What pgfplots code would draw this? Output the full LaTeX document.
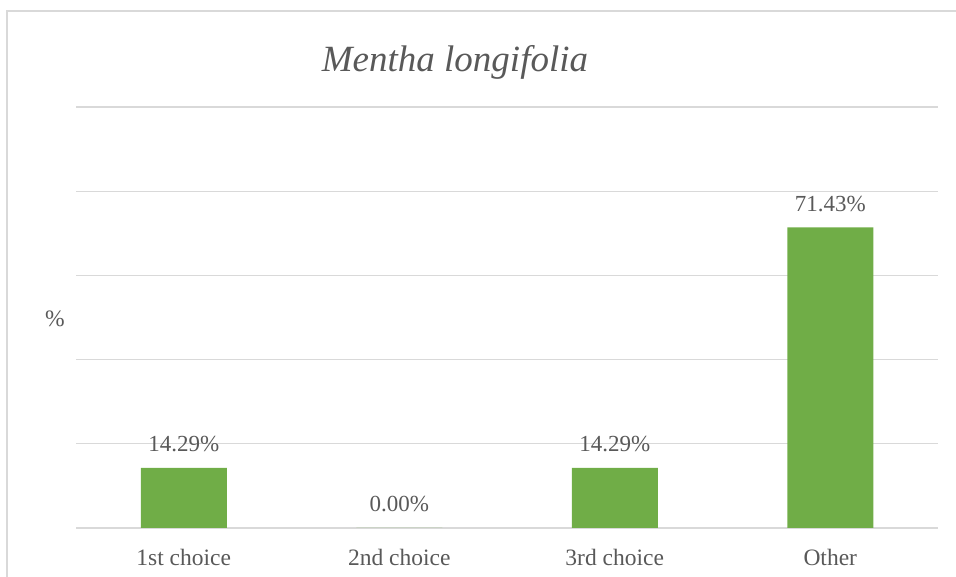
\documentclass[border=0pt]{standalone}
\usepackage{fontspec}
\setmainfont{Liberation Serif}
\usepackage{pgfplots}
\pgfplotsset{compat=1.18}
\definecolor{barg}{HTML}{70AD47}
\definecolor{gridg}{HTML}{D9D9D9}
\definecolor{txt}{HTML}{595959}

\begin{document}
\begin{tikzpicture}
% outer frame (left and top edges only are visible)
\draw[gridg, line width=2pt] (7pt,0pt) -- (7pt,566pt) -- (956pt,566pt);
\begin{axis}[
  at={(76pt,49pt)}, anchor=south west,
  width=862pt, height=421pt, scale only axis,
  ybar, bar width=86pt,
  xmin=-0.5, xmax=3.5, ymin=0, ymax=100,
  xtick={0,1,2,3},
  xticklabels={1st choice, 2nd choice, 3rd choice, Other},
  ytick={0,20,40,60,80,100}, yticklabels={},
  ymajorgrids, grid style={gridg, line width=1.2pt},
  axis x line*=bottom, axis y line*=left,
  y axis line style={draw=none},
  x axis line style={gridg, line width=1.2pt, -},
  major tick length=0pt,
  xticklabel style={font=\fontsize{23.5}{26}\selectfont, text=txt, anchor=base, yshift=-38pt},
  nodes near coords={\pgfmathprintnumber[fixed,fixed zerofill,precision=2,assume math mode=true]{\pgfplotspointmeta}\%},
  nodes near coords style={font=\fontsize{23}{26}\selectfont, text=txt, anchor=base, yshift=16pt},
  clip=false,
]
\addplot[fill=barg, draw=none] coordinates {(0,14.29) (1,0) (2,14.29) (3,71.43)};
\end{axis}
\node[font=\fontsize{37}{42}\selectfont\itshape, text=txt, anchor=base] at (455pt,505pt) {Mentha longifolia};
\node[font=\fontsize{23.5}{26}\selectfont, text=txt, anchor=base] at (55pt,250pt) {\%};
\pgfresetboundingbox
\useasboundingbox (0pt,0pt) rectangle (956pt,577pt);
\end{tikzpicture}
\end{document}
